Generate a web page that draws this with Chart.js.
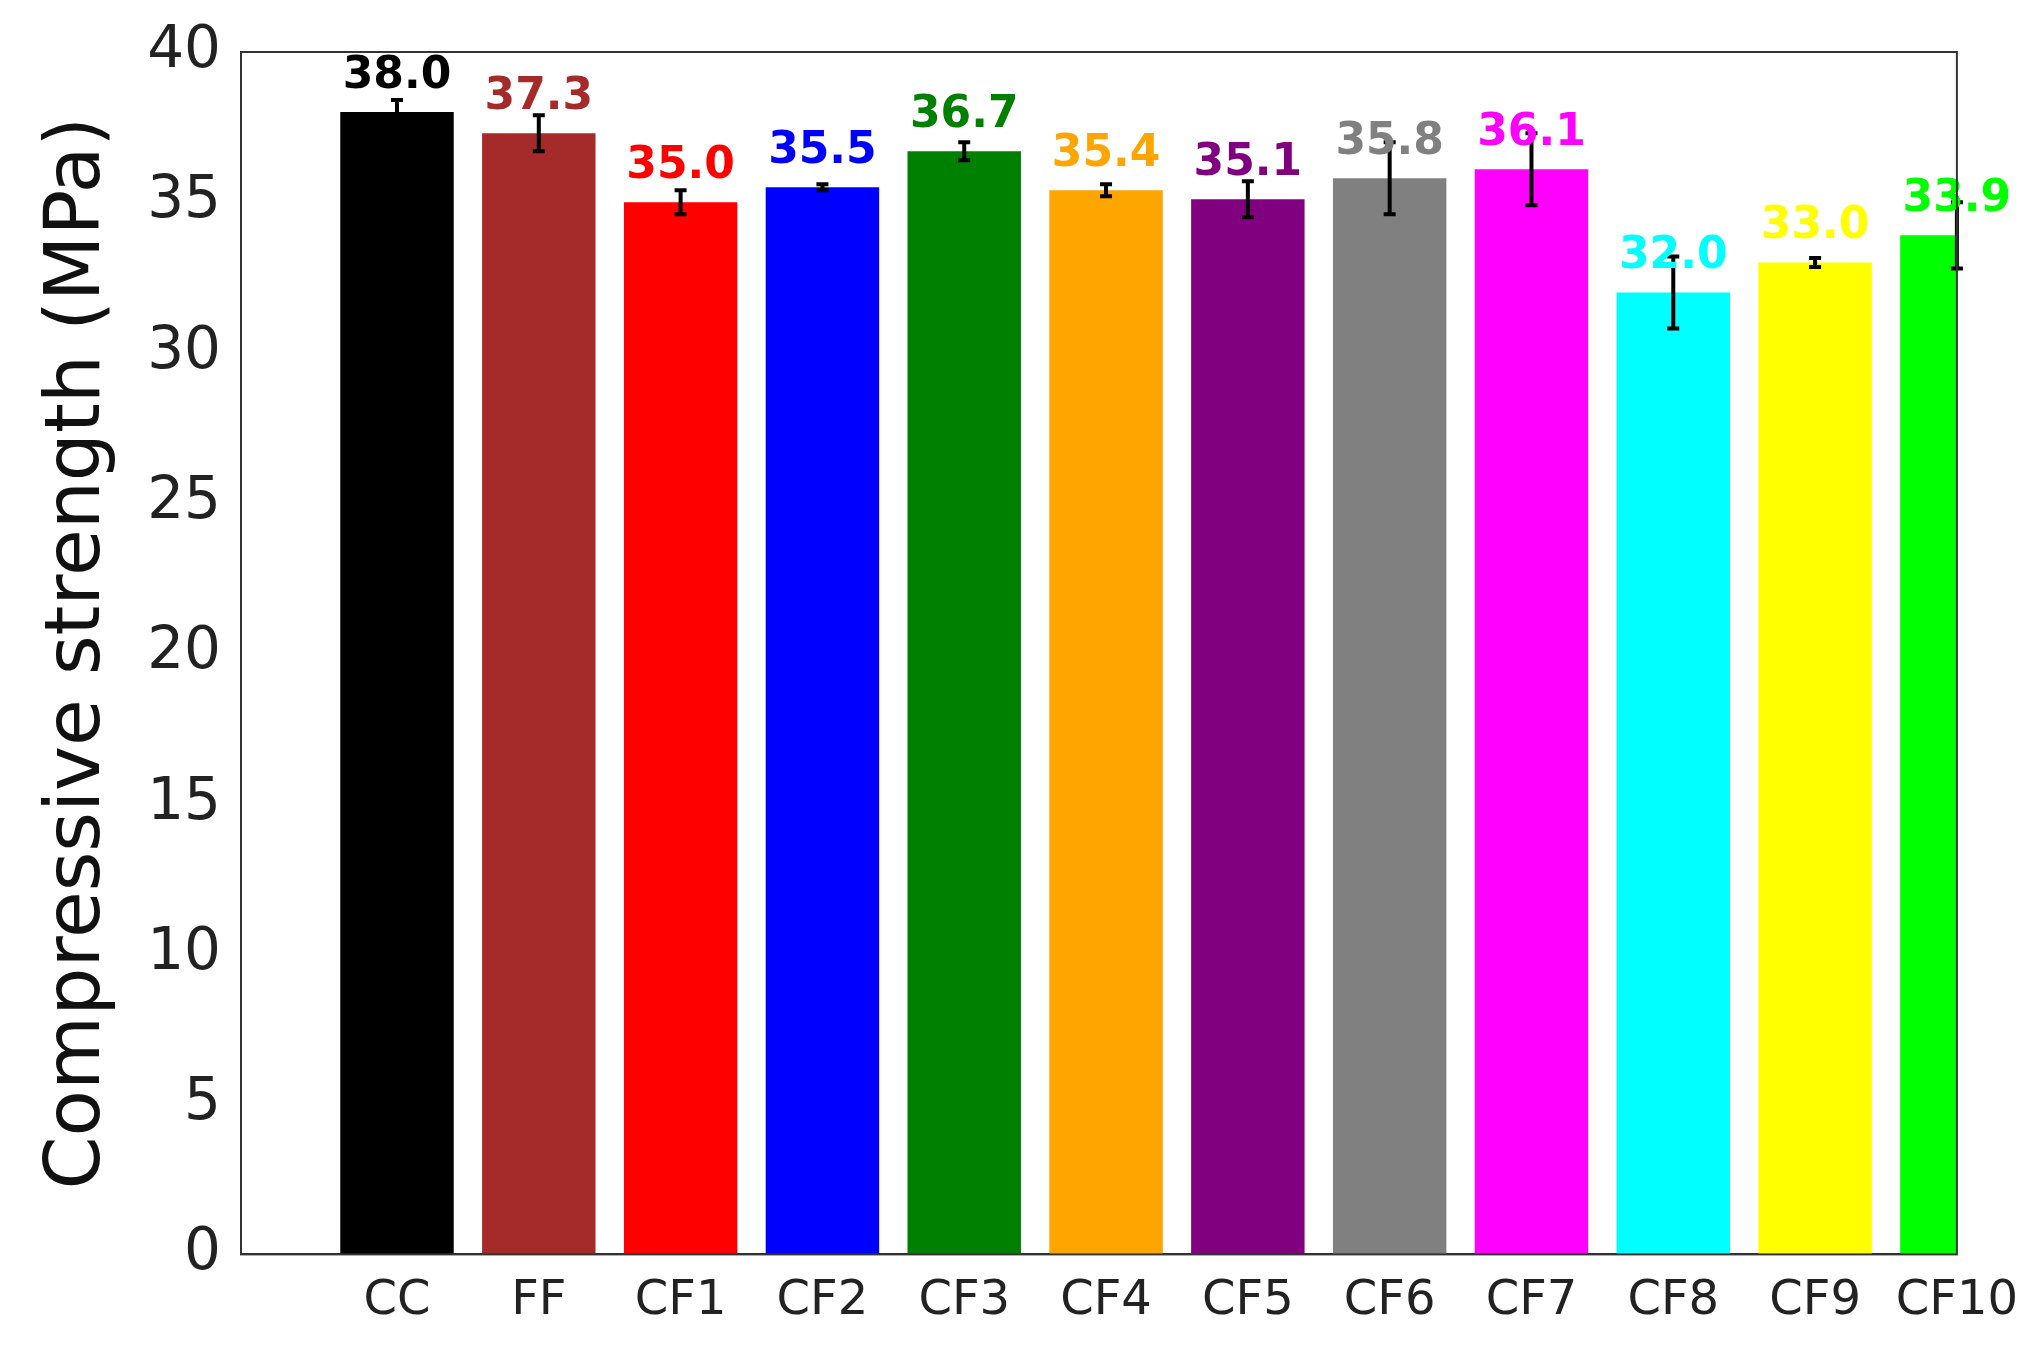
<!DOCTYPE html>
<html>
<head>
<meta charset="utf-8">
<script src="https://cdn.jsdelivr.net/npm/chart.js@4"></script>
<style>
  html, body { margin: 0; padding: 0; background: #fff; }
  #wrap { width: 2024px; height: 1360px; }
</style>
</head>
<body>
<div id="wrap"><canvas id="c"></canvas></div>
<script>
// Compressive strength per mix
const categories = ['CC', 'FF', 'CF1', 'CF2', 'CF3', 'CF4', 'CF5', 'CF6', 'CF7', 'CF8', 'CF9', 'CF10'];
const strength = [38.0, 37.3, 35.0, 35.5, 36.7, 35.4, 35.1, 35.8, 36.1, 32.0, 33.0, 33.9];
const errors = [0.4, 0.6, 0.4, 0.1, 0.3, 0.2, 0.6, 1.2, 1.2, 1.2, 0.15, 1.1];
const barColors = ['#000000', '#a52a2a', '#ff0000', '#0000ff', '#008000', '#ffa500',
                   '#800080', '#808080', '#ff00ff', '#00ffff', '#ffff00', '#00ff00'];
const yTicks = [0, 5, 10, 15, 20, 25, 30, 35, 40];

const points = strength.map((v, i) => ({ x: i, y: v }));

const errorBars = {
    id: 'errorBars',
    afterDatasetsDraw(chart) {
        const ctx = chart.ctx;
        const y = chart.scales.y;
        const meta = chart.getDatasetMeta(0);
        ctx.save();
        ctx.strokeStyle = '#000';
        ctx.lineWidth = 4;
        meta.data.forEach((bar, i) => {
            const top = y.getPixelForValue(strength[i] + errors[i]);
            const bot = y.getPixelForValue(strength[i] - errors[i]);
            ctx.beginPath();
            ctx.moveTo(bar.x, top); ctx.lineTo(bar.x, bot);
            ctx.moveTo(bar.x - 6, top); ctx.lineTo(bar.x + 6, top);
            ctx.moveTo(bar.x - 6, bot); ctx.lineTo(bar.x + 6, bot);
            ctx.stroke();
        });
        // value labels
        ctx.font = 'bold 44px "DejaVu Sans"';
        ctx.textAlign = 'center';
        ctx.textBaseline = 'bottom';
        meta.data.forEach((bar, i) => {
            ctx.fillStyle = barColors[i];
            ctx.fillText(strength[i].toFixed(1), bar.x, y.getPixelForValue(strength[i]) - 14);
        });
        // frame
        const a = chart.chartArea;
        ctx.strokeStyle = '#333';
        ctx.lineWidth = 2;
        ctx.strokeRect(a.left, a.top, a.right - a.left, a.bottom - a.top);
        ctx.restore();
    }
};

new Chart(document.getElementById('c'), {
    type: 'bar',
    data: {
        datasets: [{ data: points, backgroundColor: barColors, categoryPercentage: 1, barPercentage: 0.8 }]
    },
    options: {
        responsive: true,
        maintainAspectRatio: false,
        animation: false,
        layout: { padding: { top: 52, right: 26, left: 30, bottom: 24 } },
        plugins: { legend: { display: false }, tooltip: { enabled: false } },
        scales: {
            x: {
                type: 'linear',
                min: -1.1, max: 11.0,
                offset: false,
                afterBuildTicks: (s) => { s.ticks = categories.map((c, i) => ({ value: i })); },
                grid: { display: false, drawTicks: true, tickLength: 12, tickColor: '#000' },
                border: { color: '#333', width: 2 },
                ticks: { color: '#222', font: { family: 'DejaVu Sans', size: 48 }, padding: 6,
                         maxRotation: 0, autoSkip: false, callback: (v) => categories[v] }
            },
            y: {
                min: 0, max: 40,
                afterBuildTicks: (s) => { s.ticks = yTicks.map(v => ({ value: v })); },
                grid: { display: false, drawTicks: true, tickLength: 12, tickColor: '#000' },
                border: { color: '#333', width: 2 },
                ticks: { color: '#222', font: { family: 'DejaVu Sans', size: 58 }, padding: 8 },
                title: { display: true, text: 'Compressive strength (MPa)', color: '#111',
                         font: { family: 'DejaVu Sans', size: 76 }, padding: { bottom: 14 } }
            }
        }
    },
    plugins: [errorBars]
});
</script>
</body>
</html>
